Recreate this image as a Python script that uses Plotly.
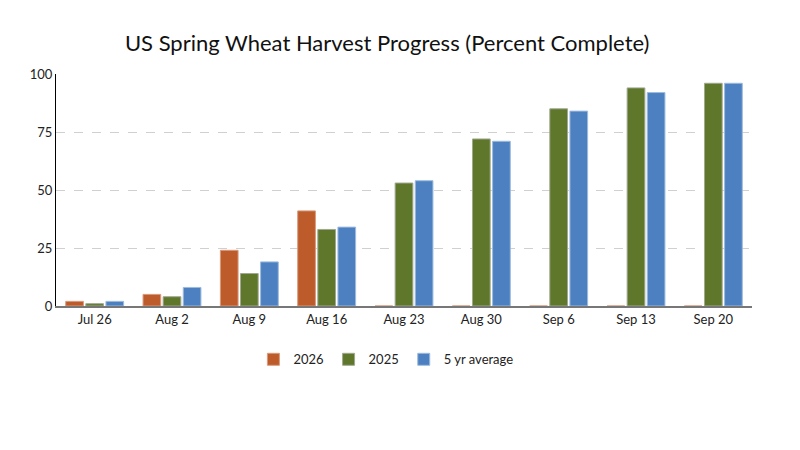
import plotly.graph_objects as go

weeks = ["Jul 26", "Aug 2", "Aug 9", "Aug 16", "Aug 23", "Aug 30", "Sep 6", "Sep 13", "Sep 20"]
y2026 = [2, 5, 24, 41, 0, 0, 0, 0, 0]
y2025 = [1, 4, 14, 33, 53, 72, 85, 94, 96]
avg5 = [2, 8, 19, 34, 54, 71, 84, 92, 96]

series = [
    ("2026", y2026, "#BD5B2B", "#D89A7C"),
    ("2025", y2025, "#5E772B", "#A0A890"),
    ("5 yr average", avg5, "#4C80C0", "#9DBBDD"),
]

fig = go.Figure()
for name, vals, col, lc in series:
    fig.add_trace(go.Bar(
        x=weeks, y=vals, name=name,
        marker=dict(color=col, line=dict(color=lc, width=1)),
    ))

fig.update_layout(
    width=800, height=450,
    paper_bgcolor="white", plot_bgcolor="white",
    font=dict(family="Lato, sans-serif", size=13, color="#222"),
    title=dict(text="US Spring Wheat Harvest Progress (Percent Complete)",
               x=0.474, xanchor="center", y=1 - 35 / 450, yanchor="middle",
               font=dict(size=22, color="#111")),
    margin=dict(l=48, r=56, t=66, b=152),
    barmode="group", bargap=0.22, bargroupgap=0.12,
    showlegend=True,
    legend=dict(orientation="h", x=0.474, xanchor="center", y=-0.23, yanchor="middle",
                font=dict(size=13), traceorder="normal"),
    xaxis=dict(showline=True, linecolor="#777", linewidth=2, ticks="",
               tickfont=dict(size=13, color="#222"), showgrid=False),
    yaxis=dict(range=[0, 100], tickvals=[0, 25, 50, 75, 100], showline=True,
               linecolor="#000", linewidth=1, ticks="", showgrid=True,
               gridcolor="#D0D0D0", griddash="dash", gridwidth=1,
               zeroline=False, tickfont=dict(size=13, color="#222")),
)

fig.write_html("out.html")
